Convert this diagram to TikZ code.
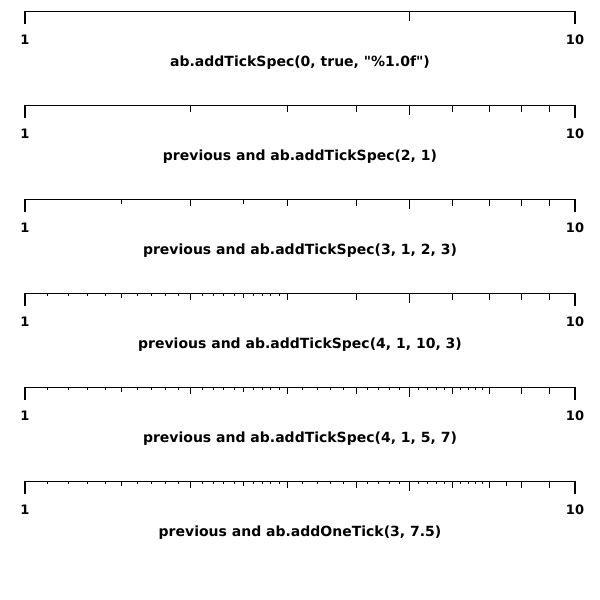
\documentclass[tikz,border=0pt]{standalone}
\usepackage{fontspec}
\setmainfont{DejaVu Sans}
\usetikzlibrary{positioning}

% one tick of a log axis: row y, value, length
\newcommand{\logtick}[3]{%
  \pgfmathsetmacro{\tx}{25+550*log10(#2)}%
  \draw[tickline] (\tx,#1) -- ++(0,#3);}

\begin{document}
\begin{tikzpicture}[x=1pt, y=-1pt,
    axisline/.style = {line width=1pt},
    tickline/.style = {line width=1pt},
    endtick/.style = {line width=2pt},
    ticklbl/.style = {inner sep=0pt, font=\bfseries\fontsize{13}{13}\selectfont},
    caption/.style = {inner sep=0pt, font=\bfseries\fontsize{14}{14}\selectfont}]
  \useasboundingbox (0,0) rectangle (600,600);
  \foreach \r/\cap in {0/{ab.addTickSpec(0, true, \textquotedbl\%1.0f\textquotedbl)},
      1/{previous and ab.addTickSpec(2, 1)},
      2/{previous and ab.addTickSpec(3, 1, 2, 3)},
      3/{previous and ab.addTickSpec(4, 1, 10, 3)},
      4/{previous and ab.addTickSpec(4, 1, 5, 7)},
      5/{previous and ab.addOneTick(3, 7.5)}}{
    \pgfmathsetmacro{\y}{11+94*\r}
    \draw[axisline] (25,\y) -- (575,\y);
    \draw[endtick] (25,\y) -- ++(0,13);
    \draw[endtick] (575,\y) -- ++(0,13);
    \logtick{\y}{5}{10}
    \ifnum\r>0
      \foreach \v in {2,3,4,6,7,8,9}{\logtick{\y}{\v}{7}}
    \fi
    \ifnum\r>1
      \foreach \v in {1.5,2.5}{\logtick{\y}{\v}{5}}
    \fi
    \ifnum\r>2
      \foreach \v in {1.1,1.2,...,2.95}{\logtick{\y}{\v}{3}}
    \fi
    \ifnum\r>3
      \foreach \v in {3.2,3.4,...,6.85}{\logtick{\y}{\v}{3}}
    \fi
    \ifnum\r>4
      \logtick{\y}{7.5}{5}
    \fi
    \node[ticklbl] (one\r) at (25,\y+29) {1};
    \node[ticklbl] (ten\r) at (575,\y+29) {10};
    \node[caption] (cap\r) at (300,\y+51.5) {\cap};
  }
\end{tikzpicture}
\end{document}
